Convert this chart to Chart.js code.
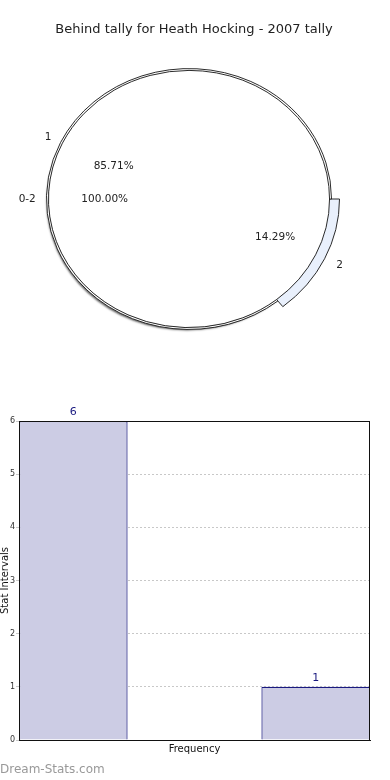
<!DOCTYPE html>
<html>
<head>
<meta charset="utf-8">
<script src="https://cdn.jsdelivr.net/npm/chart.js@4.4.1/dist/chart.umd.min.js"></script>
<style>
  body { margin: 0; background: #fff; }
  #wrap { position: relative; width: 390px; height: 780px; overflow: hidden; }
  #pie { position: absolute; left: 0; top: 0; }
  #bar { position: absolute; left: 0; top: 400px; }
  #mark { position: absolute; left: 0; top: 762px; font: 12px "DejaVu Sans", sans-serif; color: #999; }
</style>
</head>
<body>
<div id="wrap">
  <canvas id="pie" width="390" height="400"></canvas>
  <canvas id="bar" width="390" height="380"></canvas>
  <div id="mark">Dream-Stats.com</div>
</div>
<script>
// data
const title = 'Behind tally for Heath Hocking - 2007 tally';
const groupLabel = '0-2';
const tallyLabels = ['2', '1'];      // drawn clockwise from 3 o'clock
const tallyCounts = [1, 6];
const barPositions = [0, 1, 2];
const barValues = [6, 0, 1];
const xTitle = 'Frequency';
const yTitle = 'Stat Intervals';

const FONT = '"DejaVu Sans", sans-serif';
const SQUASH = 0.915;   // pie is drawn as an ellipse

const total = tallyCounts.reduce((a, b) => a + b, 0);
const pct = v => (v / total * 100).toFixed(2) + '%';

const piePlugin = {
    id: 'pieLook',
    afterDatasetsUpdate(chart) {
        // tally "1" is just a thin rim, tally "2" gets the whole band
        let meta = chart.getDatasetMeta(0);
        let rims = chart.data.datasets[0].rim;
        meta.data.forEach((arc, i) => {
            if (rims[i]) arc.outerRadius = arc.innerRadius + rims[i];
        });
    },
    beforeDatasetsDraw(chart) {
        let ctx = chart.ctx, a = chart.chartArea;
        let cx = (a.left + a.right) / 2, cy = (a.top + a.bottom) / 2;
        ctx.save();
        ctx.translate(cx, cy);
        ctx.scale(1, SQUASH);
        ctx.translate(-cx, -cy);
    },
    beforeDatasetDraw(chart, args) {
        // only the filled base pie throws the drop shadow
        let ctx = chart.ctx;
        if (args.index === 1) {
            ctx.shadowColor = 'rgba(0,0,0,0.6)';
            ctx.shadowOffsetX = -2;
            ctx.shadowOffsetY = 3;
            ctx.shadowBlur = 2;
        } else {
            ctx.shadowColor = 'rgba(0,0,0,0)';
        }
    },
    afterDatasetsDraw(chart) {
        chart.ctx.restore();
    },
    afterDraw(chart) {
        let ctx = chart.ctx;
        ctx.save();
        ctx.fillStyle = '#222';
        ctx.textAlign = 'center';
        ctx.textBaseline = 'middle';
        ctx.font = '13px ' + FONT;
        ctx.fillText(title, 194, 30);

        ctx.font = '10.5px ' + FONT;
        let ring = chart.getDatasetMeta(0).data;
        let pie = chart.getDatasetMeta(1).data;
        let R = ring[0].outerRadius;
        let put = (arc, r, text) => {
            let m = (arc.startAngle + arc.endAngle) / 2;
            ctx.fillText(text, arc.x + Math.cos(m) * r, arc.y + Math.sin(m) * r * SQUASH);
        };
        let pctPos = [0.68, 0.595];
        let namePos = [1.11, 1.04];
        ring.forEach((arc, i) => {
            put(arc, pie[0].outerRadius * pctPos[i], pct(tallyCounts[i]));
            put(arc, R * namePos[i], tallyLabels[i]);
        });
        put(pie[0], pie[0].outerRadius * 0.6, pct(total));
        put(pie[0], R * 1.075, groupLabel);
        ctx.restore();
    }
};

new Chart(document.getElementById('pie'), {
    type: 'pie',
    data: {
        labels: tallyLabels,
        datasets: [{
            data: tallyCounts,
            backgroundColor: ['#e9f0fc', '#ffffff'],
            borderColor: '#222',
            borderWidth: 1,
            weight: 10,
            rim: [0, 2],
            clip: false
        }, {
            data: [total],
            backgroundColor: '#ffffff',
            borderWidth: 0,
            weight: 141,
            clip: false
        }]
    },
    options: {
        responsive: false,
        animation: false,
        rotation: 90,
        hoverOffset: 0,
        layout: { padding: { left: 38, right: 50, top: 48, bottom: 50 } },
        plugins: { legend: { display: false }, tooltip: { enabled: false } }
    },
    plugins: [piePlugin]
});

const barPlugin = {
    id: 'barLook',
    afterDatasetsDraw(chart) {
        let ctx = chart.ctx, a = chart.chartArea;
        ctx.save();
        ctx.strokeStyle = '#111';
        ctx.lineWidth = 1;
        ctx.strokeRect(a.left + 0.5, a.top + 0.5, a.right - a.left - 1, a.bottom - a.top);
        ctx.fillStyle = '#1a1a80';
        ctx.font = '11px ' + FONT;
        ctx.textAlign = 'center';
        ctx.textBaseline = 'middle';
        chart.getDatasetMeta(0).data.forEach((bar, i) => {
            if (barValues[i] > 0) ctx.fillText(String(barValues[i]), bar.x, bar.y - 9);
        });
        ctx.restore();
    }
};

new Chart(document.getElementById('bar'), {
    type: 'bar',
    data: {
        datasets: [{
            data: barValues.map((v, i) => ({ x: barPositions[i], y: v })),
            backgroundColor: '#ccccE4',
            borderColor: '#1a1a80',
            borderWidth: 1.2,
            barPercentage: 0.896,
            categoryPercentage: 1
        }]
    },
    options: {
        responsive: false,
        animation: false,
        layout: { padding: { top: 21, right: 20, left: 0, bottom: 0 } },
        plugins: { legend: { display: false }, tooltip: { enabled: false } },
        scales: {
            x: {
                type: 'linear',
                min: -0.448,
                max: 2.448,
                offset: false,
                grid: { display: false },
                ticks: { display: false, stepSize: 1, includeBounds: false },
                border: { color: '#111' },
                title: { display: true, text: xTitle, color: '#111', font: { family: FONT, size: 10 }, padding: { top: 0, bottom: 25 } },
                afterFit(s) { s.height = 40; }
            },
            y: {
                min: 0,
                max: 6,
                ticks: { stepSize: 1, color: '#333', font: { family: FONT, size: 8 }, padding: 1 },
                grid: { color: '#c8c8c8', tickLength: 3 },
                border: { color: '#111', dash: [2, 2] },
                title: { display: true, text: yTitle, color: '#111', font: { family: FONT, size: 10, lineHeight: 1 }, padding: 0 },
                afterFit(s) { s.width = 19; }
            }
        }
    },
    plugins: [barPlugin]
});
</script>
</body>
</html>
